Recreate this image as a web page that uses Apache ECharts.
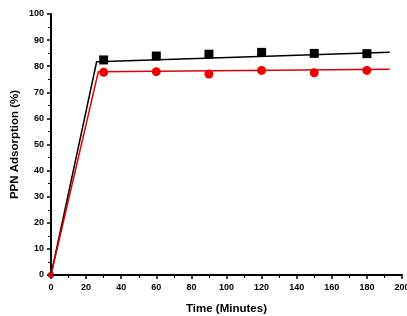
<!DOCTYPE html>
<html lang="en">
<head>
    <meta charset="UTF-8">
    <title>PPN Adsorption</title>
    <script src="https://cdn.jsdelivr.net/npm/echarts@6/dist/echarts.min.js"></script>
    <style>
        html, body { margin: 0; padding: 0; background: #fff; }
    </style>
</head>
<body>
<div id="main" style="width: 407px;height:316px;"></div>
<script>
    // measured points (minutes, %)
    var times = [0, 30, 60, 90, 120, 150, 180];
    var blackVals = [0, 82.4, 83.9, 84.6, 85.3, 84.9, 84.8];
    var redVals = [0, 77.7, 77.9, 77.0, 78.4, 77.5, 78.4];
    // fitted curves
    var blackFitX = [0, 26, 193];
    var blackFitY = [0, 81.7, 85.3];
    var redFitX = [0, 27, 193];
    var redFitY = [0, 77.9, 78.8];

    function pairs(xs, ys) {
        return xs.map(function (x, i) { return [x, ys[i]]; });
    }
    // the point at the origin is drawn much smaller
    function markSize(v) { return v[0] === 0 ? 5 : 9; }

    var myChart = echarts.init(document.getElementById('main'));
    var lbl = { color: '#000', fontSize: 9, fontWeight: 'bold', fontFamily: 'Liberation Sans' };
    var nameStyle = { color: '#000', fontSize: 11.5, fontWeight: 'bold', fontFamily: 'Liberation Sans' };

    var option = {
        animation: false,
        backgroundColor: '#fff',
        grid: { left: 51, right: 5, top: 14, bottom: 41, outerBoundsMode: 'none', containLabel: false },
        xAxis: {
            type: 'value', min: 0, max: 200, interval: 20,
            name: 'Time (Minutes)', nameLocation: 'middle', nameGap: 28,
            nameTextStyle: nameStyle,
            axisLine: { lineStyle: { color: '#000', width: 2 } },
            axisTick: { length: 4, lineStyle: { color: '#000', width: 1.5 } },
            minorTick: { show: true, splitNumber: 2, length: 3, lineStyle: { color: '#000', width: 1 } },
            axisLabel: Object.assign({ margin: 8, hideOverlap: false }, lbl),
            splitLine: { show: false }
        },
        yAxis: {
            type: 'value', min: 0, max: 100, interval: 10,
            name: 'PPN Adsorption (%)', nameLocation: 'middle', nameGap: 30, nameRotate: 90,
            nameMoveOverlap: false,
            nameTextStyle: nameStyle,
            axisLine: { show: true, lineStyle: { color: '#000', width: 2 } },
            axisTick: { show: true, length: 4, lineStyle: { color: '#000', width: 1.5 } },
            minorTick: { show: true, splitNumber: 2, length: 3, lineStyle: { color: '#000', width: 1 } },
            axisLabel: Object.assign({ margin: 7 }, lbl),
            splitLine: { show: false }
        },
        series: [
            {
                type: 'line', data: pairs(blackFitX, blackFitY), symbol: 'none',
                lineStyle: { color: '#000', width: 1.5 }, z: 2
            },
            {
                type: 'line', data: pairs(redFitX, redFitY), symbol: 'none',
                lineStyle: { color: '#e00000', width: 1.5 }, z: 2
            },
            {
                type: 'scatter', data: pairs(times, blackVals), symbol: 'rect', symbolSize: markSize,
                itemStyle: { color: '#000', opacity: 1 }, z: 3
            },
            {
                type: 'scatter', data: pairs(times, redVals), symbol: 'circle', symbolSize: markSize,
                itemStyle: { color: '#f20000', opacity: 1 }, z: 4
            }
        ]
    };
    myChart.setOption(option);
</script>
</body>
</html>
